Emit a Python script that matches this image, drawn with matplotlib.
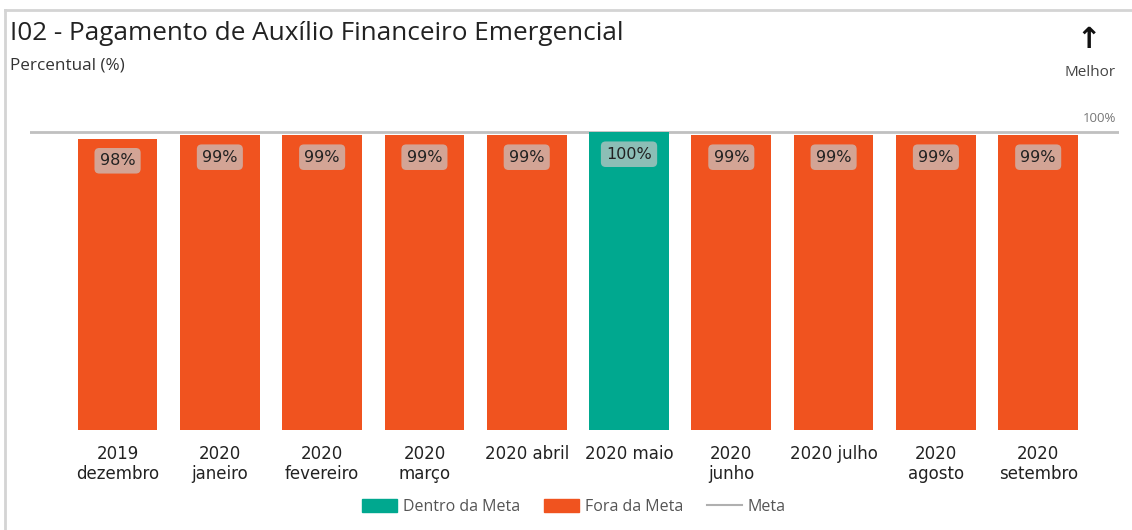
import matplotlib.pyplot as plt
from matplotlib.patches import Patch
from matplotlib.lines import Line2D

meses = ["2019\ndezembro", "2020\njaneiro", "2020\nfevereiro", "2020\nmarço",
         "2020 abril", "2020 maio", "2020\njunho", "2020 julho", "2020\nagosto",
         "2020\nsetembro"]
valores = [97.8, 99, 99, 99, 99, 100, 99, 99, 99, 99]
rotulos = ["98%", "99%", "99%", "99%", "99%", "100%", "99%", "99%", "99%", "99%"]
meta = 100

laranja = "#f0531f"
verde = "#00a88f"
cores = [verde if v >= meta else laranja for v in valores]

W, H = 1132, 530
fig = plt.figure(figsize=(W / 100, H / 100), dpi=100)

# eixo: 0 em y=430px, 100 em y=132px
ymax = 105
y_top = 132 - (ymax - 100) * (430 - 132) / 100
ax = fig.add_axes([30 / W, (H - 430) / H, (1119 - 30) / W, (430 - y_top) / H])

x = list(range(len(meses)))
ax.bar(x, valores, width=0.78, color=cores, zorder=2)
ax.axhline(meta, color="#c0c0c0", lw=2, zorder=1)
ax.set_xlim(-0.856, 9.79)
ax.set_ylim(0, ymax)

for xi, v, r in zip(x, valores, rotulos):
    ax.annotate(r, (xi, v), xytext=(0, -16), textcoords="offset points",
                ha="center", va="center", fontsize=11.5, color="#222222",
                family="DejaVu Sans", zorder=3,
                bbox=dict(boxstyle="round,pad=0.33,rounding_size=0.3",
                          fc="#c8c8c8", ec="none", alpha=0.7))

ax.set_xticks(x)
ax.set_xticklabels(meses, fontsize=12, color="#222222", family="DejaVu Sans",
                   linespacing=1.15)
ax.tick_params(axis="x", length=0, pad=11)
ax.set_yticks([])
for s in ax.spines.values():
    s.set_visible(False)

ax.annotate("100%", (1.0, 100), xycoords=ax.get_yaxis_transform(),
            xytext=(-2, 5), textcoords="offset points", ha="right",
            va="bottom", fontsize=9.5, color="#777777", family="Open Sans")

fig.text(10 / W, 1 - 33 / H, "I02 - Pagamento de Auxílio Financeiro Emergencial",
         fontsize=18.8, family="Open Sans", color="#222222", va="center", ha="left")
fig.text(10 / W, 1 - 65 / H, "Percentual (%)", fontsize=12.3, family="Open Sans",
         color="#333333", va="center", ha="left")
fig.text(1089 / W, 1 - 40 / H, "↑", fontsize=21, family="DejaVu Sans",
         color="#111111", va="center", ha="center", fontweight="bold")
fig.text(1090 / W, 1 - 72 / H, "Melhor", fontsize=11, family="Open Sans",
         color="#444444", va="center", ha="center")

# moldura (esquerda e topo)
fig.add_artist(Line2D([5 / W, 5 / W], [0, 1 - 10 / H], color="#d4d4d4", lw=2,
                      transform=fig.transFigure))
fig.add_artist(Line2D([5 / W, 1], [1 - 10 / H, 1 - 10 / H], color="#d4d4d4", lw=2,
                      transform=fig.transFigure))

handles = [Patch(color=verde, label="Dentro da Meta"),
           Patch(color=laranja, label="Fora da Meta"),
           Line2D([], [], color="#b0b0b0", lw=1.5, label="Meta")]
leg = fig.legend(handles=handles, loc="center", bbox_to_anchor=(574 / W, 1 - 507 / H),
                 ncol=3, frameon=False, handlelength=2.2, handleheight=0.9,
                 handletextpad=0.35, columnspacing=1.5,
                 prop={"family": "Open Sans", "size": 11.5})
for t in leg.get_texts():
    t.set_color("#555555")

fig.savefig("out.png", dpi=100)
